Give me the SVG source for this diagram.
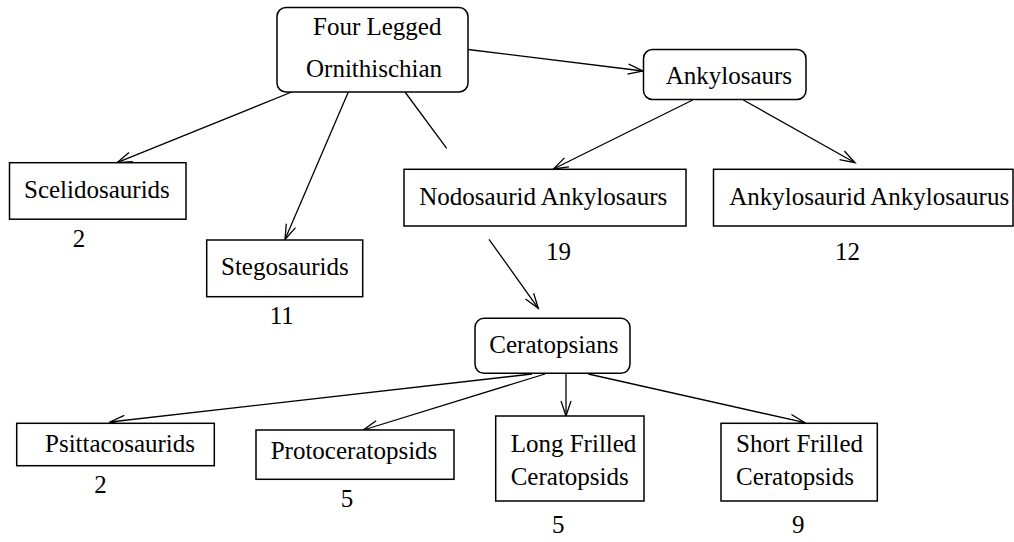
<svg xmlns="http://www.w3.org/2000/svg" width="1014" height="542" viewBox="0 0 1014 542">
  <style>
    .box { fill: #ffffff; stroke: #000000; stroke-width: 1.5; }
    .edge { fill: none; stroke: #000000; stroke-width: 1.3; }
    text { font-family: "Liberation Serif", "Times New Roman", serif; font-size: 25px; fill: #000000; }
    .num { text-anchor: middle; }
  </style>
  <defs>
    <marker id="arrow" markerUnits="userSpaceOnUse" markerWidth="20" markerHeight="14" refX="16" refY="6" orient="auto">
      <path d="M1,1 L16,6 L1,11" fill="none" stroke="#000000" stroke-width="1.3"/>
    </marker>
  </defs>

  <rect width="1014" height="542" fill="#ffffff"/>

  <!-- connectors -->
  <g id="connectors">
    <line class="edge" x1="468" y1="49.5" x2="643" y2="71" marker-end="url(#arrow)"/>
    <line class="edge" x1="692.7" y1="100" x2="553.3" y2="169" marker-end="url(#arrow)"/>
    <line class="edge" x1="743.3" y1="100" x2="855" y2="162.7" marker-end="url(#arrow)"/>
    <line class="edge" x1="291.7" y1="92" x2="117" y2="162.7" marker-end="url(#arrow)"/>
    <line class="edge" x1="348.3" y1="92" x2="285" y2="239.5" marker-end="url(#arrow)"/>
    <line class="edge" x1="405" y1="92" x2="446.7" y2="148.3"/>
    <line class="edge" x1="489" y1="239.3" x2="538.3" y2="308.3" marker-end="url(#arrow)"/>
    <line class="edge" x1="532" y1="374" x2="110" y2="422" marker-end="url(#arrow)"/>
    <line class="edge" x1="545" y1="374" x2="363.3" y2="430" marker-end="url(#arrow)"/>
    <line class="edge" x1="566" y1="374" x2="566" y2="416" marker-end="url(#arrow)"/>
    <line class="edge" x1="588.3" y1="374" x2="805" y2="422.7" marker-end="url(#arrow)"/>
  </g>

  <!-- nodes -->
  <g id="four-legged-ornithischian">
    <rect class="box" x="277" y="7.5" width="191" height="84.5" rx="9"/>
    <text x="313" y="35">Four Legged</text>
    <text x="306" y="77">Ornithischian</text>
  </g>

  <g id="ankylosaurs">
    <rect class="box" x="643.5" y="49.5" width="162.5" height="50" rx="9"/>
    <text x="665.7" y="84.3">Ankylosaurs</text>
  </g>

  <g id="scelidosaurids">
    <rect class="box" x="9.5" y="162.7" width="176.5" height="56.5"/>
    <text x="24" y="197.7">Scelidosaurids</text>
    <text class="num" x="79" y="246.7">2</text>
  </g>

  <g id="stegosaurids">
    <rect class="box" x="206.7" y="240" width="156" height="56.7"/>
    <text x="221" y="275">Stegosaurids</text>
    <text class="num" x="281.7" y="324">11</text>
  </g>

  <g id="nodosaurid-ankylosaurs">
    <rect class="box" x="404" y="169.3" width="282" height="56.7"/>
    <text x="419.3" y="205">Nodosaurid Ankylosaurs</text>
    <text class="num" x="558.5" y="260">19</text>
  </g>

  <g id="ankylosaurid-ankylosaurus">
    <rect class="box" x="713.5" y="169.3" width="299.5" height="56.7"/>
    <text x="729.3" y="205">Ankylosaurid Ankylosaurus</text>
    <text class="num" x="847.5" y="260">12</text>
  </g>

  <g id="ceratopsians">
    <rect class="box" x="475" y="318.3" width="155" height="55" rx="9"/>
    <text x="489.3" y="353.3">Ceratopsians</text>
  </g>

  <g id="psittacosaurids">
    <rect class="box" x="16.7" y="423.3" width="197.6" height="42.4"/>
    <text x="45" y="451.7">Psittacosaurids</text>
    <text class="num" x="100.5" y="493.3">2</text>
  </g>

  <g id="protoceratopsids">
    <rect class="box" x="256" y="430" width="198" height="49.3"/>
    <text x="270.7" y="459">Protoceratopsids</text>
    <text class="num" x="347" y="507.3">5</text>
  </g>

  <g id="long-frilled-ceratopsids">
    <rect class="box" x="495.7" y="416" width="148.3" height="85"/>
    <text x="510.7" y="451.7">Long Frilled</text>
    <text x="510.7" y="485">Ceratopsids</text>
    <text class="num" x="558.3" y="533.3">5</text>
  </g>

  <g id="short-frilled-ceratopsids">
    <rect class="box" x="721" y="423.3" width="156.3" height="77.7"/>
    <text x="736" y="451.7">Short Frilled</text>
    <text x="736" y="485">Ceratopsids</text>
    <text class="num" x="798.3" y="533.3">9</text>
  </g>
</svg>
